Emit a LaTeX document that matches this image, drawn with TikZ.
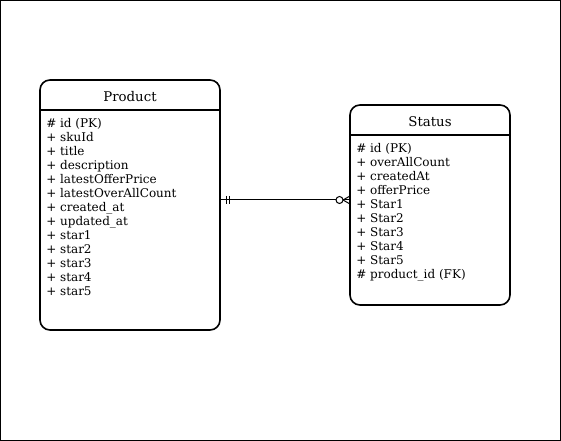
\documentclass[tikz,border=0pt]{standalone}
\usepackage{fontspec}
\setmainfont{DejaVu Serif}
\usetikzlibrary{calc}

\tikzset{
  entity/.style={draw, line width=1.2pt, rounded corners=7.5pt, inner sep=0pt, outer sep=0pt},
  headline/.style={line width=1.2pt},
  title/.style={font=\fontsize{10}{12}\selectfont},
  attr/.style={anchor=west, inner sep=0pt, text height=7pt, text depth=2pt, font=\fontsize{9}{10.5}\selectfont},
  relline/.style={line width=0.75pt}
}

\begin{document}
\begin{tikzpicture}[x=0.75pt, y=-0.75pt]
	\useasboundingbox (0,0) rectangle (561,441);
	\draw[line width=0.75pt] (0.5,0.5) rectangle (560.5,440.5);
	
	% entities
	\node[entity, minimum width=135pt, minimum height=187.5pt] (product) at (130,205) {};
	\node[entity, minimum width=120pt, minimum height=150pt] (status) at (430,205) {};
	
	% headers
	\draw[headline] ($(product.north west)+(0,30)$) -- ($(product.north east)+(0,30)$);
	\node[title] (producttitle) at ($(product.north)+(0,17)$) {Product};
	\draw[headline] ($(status.north west)+(0,30)$) -- ($(status.north east)+(0,30)$);
	\node[title] (statustitle) at ($(status.north)+(0,17)$) {Status};
	
	% attributes
	\foreach \t [count=\i] in {\# id (PK), + skuId, + title, + description, + latestOfferPrice, + latestOverAllCount, + created\_at, + updated\_at, + star1, + star2, + star3, + star4, + star5}
		\node[attr] (pattr\i) at ($(product.north west)+(6,30+14*\i)$) {\t};
	\foreach \t [count=\i] in {\# id (PK), + overAllCount, + createdAt, + offerPrice, + Star1, + Star2, + Star3, + Star4, + Star5, \# product\_id (FK)}
		\node[attr] (sattr\i) at ($(status.north west)+(6,30+14*\i)$) {\t};
	
	% relation
	\coordinate (pe) at ($(product.east)+(0,-5)$);
	\coordinate (sw) at ($(status.west)+(0,-5)$);
	\draw[relline] (pe) -- (sw);
	\draw[relline]
		($(pe)+(6,-4)$) -- ($(pe)+(6,4)$)
		($(pe)+(9,-4)$) -- ($(pe)+(9,4)$)
		;
	\draw[relline, fill=white] ($(sw)+(-10.5,0)$) circle (3.5);
	\draw[relline]
		($(sw)+(-7,0)$) -- ($(sw)+(0,-4)$)
		($(sw)+(-7,0)$) -- ($(sw)+(0,4)$)
		;
\end{tikzpicture}
\end{document}
